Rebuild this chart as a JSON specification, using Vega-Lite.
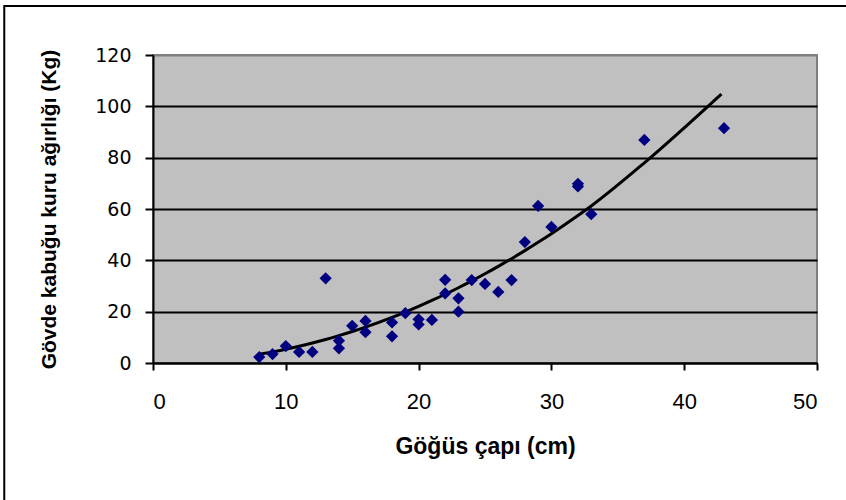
{
  "$schema": "https://vega.github.io/schema/vega-lite/v6.json",
  "width": 664,
  "height": 308,
  "autosize": {"type": "none"},
  "padding": {"left": 153, "top": 55, "right": 29, "bottom": 137},
  "background": "white",
  "config": {
    "font": "Liberation Sans",
    "view": {"fill": "#C0C0C0", "stroke": "#808080", "strokeWidth": 2}
  },
  "datasets": {
    "points": [
      {"d": 8, "w": 2.3}, {"d": 9, "w": 3.5}, {"d": 10, "w": 6.6}, {"d": 11, "w": 4.3},
      {"d": 12, "w": 4.3}, {"d": 13, "w": 33}, {"d": 14, "w": 8.7}, {"d": 14, "w": 5.7},
      {"d": 15, "w": 14.5}, {"d": 16, "w": 16.4}, {"d": 16, "w": 12}, {"d": 18, "w": 15.8},
      {"d": 18, "w": 10.4}, {"d": 19, "w": 19.4}, {"d": 20, "w": 17}, {"d": 20, "w": 15},
      {"d": 21, "w": 16.8}, {"d": 22, "w": 32.4}, {"d": 22, "w": 27.1}, {"d": 23, "w": 25.2},
      {"d": 23, "w": 20}, {"d": 24, "w": 32.3}, {"d": 25, "w": 30.8}, {"d": 26, "w": 27.7},
      {"d": 27, "w": 32.3}, {"d": 28, "w": 47.1}, {"d": 29, "w": 61.2}, {"d": 30, "w": 53},
      {"d": 32, "w": 69.8}, {"d": 32, "w": 68.8}, {"d": 33, "w": 58}, {"d": 37, "w": 86.9},
      {"d": 43, "w": 91.5}
    ],
    "fit": [
      {"d": 8, "f": 3.41}, {"d": 9, "f": 4.33}, {"d": 10, "f": 5.37}, {"d": 11, "f": 6.52},
      {"d": 12, "f": 7.79}, {"d": 13, "f": 9.17}, {"d": 14, "f": 10.66}, {"d": 15, "f": 12.27},
      {"d": 16, "f": 13.99}, {"d": 18, "f": 17.79}, {"d": 19, "f": 19.86}, {"d": 20, "f": 22.05},
      {"d": 21, "f": 24.36}, {"d": 22, "f": 26.78}, {"d": 23, "f": 29.32}, {"d": 24, "f": 31.98},
      {"d": 25, "f": 34.75}, {"d": 26, "f": 37.64}, {"d": 27, "f": 40.65}, {"d": 28, "f": 43.78},
      {"d": 29, "f": 47.03}, {"d": 30, "f": 50.39}, {"d": 32, "f": 57.48}, {"d": 33, "f": 61.2},
      {"d": 37, "f": 78.0}, {"d": 42.8, "f": 104.8}
    ],
    "frame": [{"x1": -11.2, "x2": 70, "y1": 139.1, "y2": -80}]
  },
  "layer": [
    {
      "data": {"name": "fit"},
      "mark": {"type": "line", "color": "black", "strokeWidth": 3, "interpolate": "monotone"},
      "encoding": {
        "x": {
          "field": "d", "type": "quantitative",
          "scale": {"domain": [0, 50], "nice": false, "zero": false},
          "axis": {
            "values": [0, 10, 20, 30, 40, 50],
            "title": "Göğüs çapı (cm)",
            "titleFont": "Liberation Sans", "titleFontSize": 23, "titleFontWeight": "bold", "titleColor": "black",
            "titlePadding": 23,
            "labelFont": "Liberation Sans", "labelFontSize": 22, "labelColor": "black", "labelPadding": 21,
            "domainColor": "black", "domainWidth": 2,
            "tickColor": "black", "tickWidth": 2, "tickSize": 7,
            "grid": false
          }
        },
        "y": {
          "field": "f", "type": "quantitative",
          "scale": {"domain": [0, 120], "nice": false, "zero": false},
          "axis": {
            "values": [0, 20, 40, 60, 80, 100, 120],
            "title": "Gövde kabuğu kuru ağırlığı (Kg)",
            "titleFont": "Liberation Sans", "titleFontSize": 21, "titleFontWeight": "bold", "titleColor": "black",
            "titlePadding": 35,
            "labelFont": "DejaVu Sans", "labelFontSize": 19, "labelColor": "black", "labelPadding": 14,
            "domainColor": "black", "domainWidth": 2,
            "tickColor": "black", "tickWidth": 2, "tickSize": 8,
            "grid": true,
            "gridColor": {"condition": {"test": "datum.value === 120", "value": "#808080"}, "value": "black"},
            "gridWidth": 2
          }
        }
      }
    },
    {
      "data": {"name": "points"},
      "mark": {"type": "point", "shape": "diamond", "filled": true, "color": "#000080", "size": 150, "opacity": 1},
      "encoding": {
        "x": {"field": "d", "type": "quantitative"},
        "y": {"field": "w", "type": "quantitative"}
      }
    },
    {
      "data": {"name": "frame"},
      "mark": {"type": "rect", "fill": null, "fillOpacity": 0, "stroke": "black", "strokeWidth": 2, "clip": false},
      "encoding": {
        "x": {"field": "x1", "type": "quantitative"},
        "x2": {"field": "x2"},
        "y": {"field": "y1", "type": "quantitative"},
        "y2": {"field": "y2"}
      }
    }
  ]
}
